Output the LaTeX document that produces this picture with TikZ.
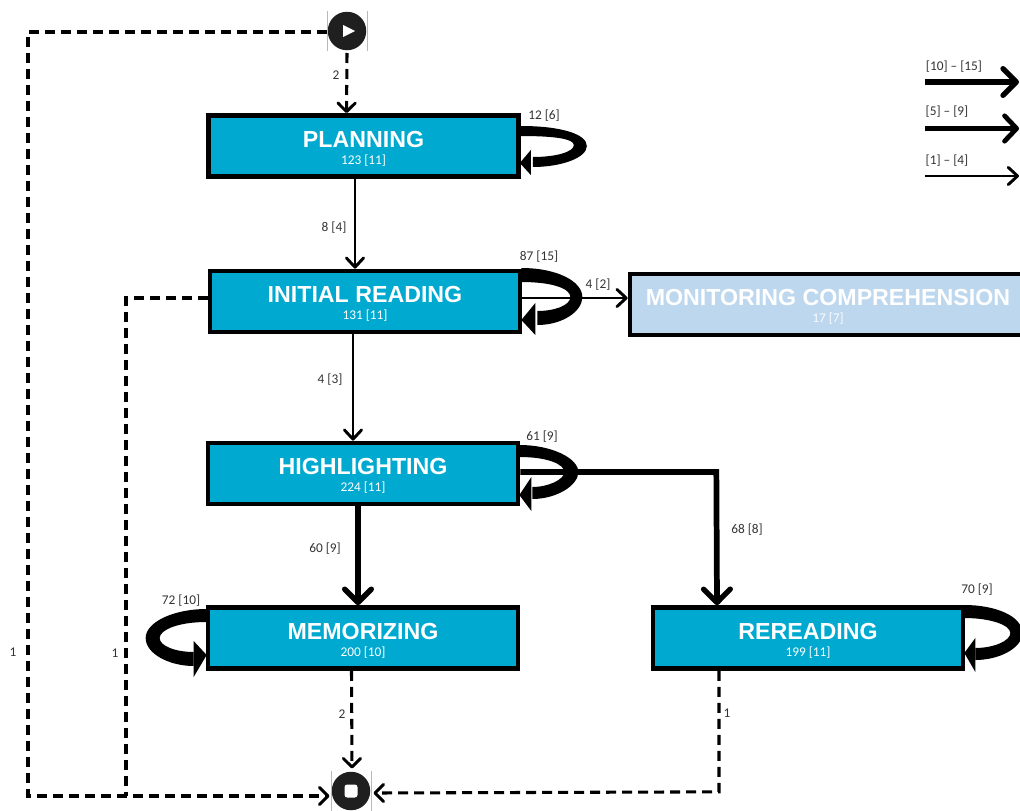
\documentclass[tikz,border=0pt]{standalone}
\usepackage{fontspec}
\setmainfont{Carlito}
\newfontfamily\headfont{Liberation Sans}
\usetikzlibrary{arrows.meta}
\definecolor{stepblue}{HTML}{00A9D0}
\definecolor{palefill}{HTML}{BDD7EE}
\definecolor{inkdark}{HTML}{1F1F1F}
\tikzset{
  dx/.style={xshift=#1*0.75pt},
  dy/.style={yshift=-#1*0.75pt},
  stepbox/.style={draw=black,line width=3.5pt,fill=stepblue,text=white,minimum width=#1*0.75pt,minimum height=61*0.75pt,inner sep=0pt,align=center},
  palebox/.style={stepbox=#1,fill=palefill},
  terminal/.style={circle,fill=inkdark,minimum size=38.5*0.75pt,inner sep=0pt},
  lab/.style={text=black!80,inner sep=0pt,yshift=-0.3pt,font=\fontsize{10}{12}\selectfont},
  conn/.style={line width=2.2pt,-{Straight Barb[length=7pt,width=13pt,line width=2.2pt,round]}},
  medconn/.style={line width=3.75pt,-{Straight Barb[length=9pt,width=19pt,line width=3.6pt,round]}},
  bigconn/.style={line width=4.3pt,-{Straight Barb[length=10pt,width=20pt,line width=4pt,round]}},
  dashconn/.style={line width=2.3pt,dash pattern=on 7.5pt off 4.5pt,-{Straight Barb[length=6.5pt,width=13pt,line width=2.2pt,round]}},
  loopfill/.style={fill=black},
}
\newcommand{\boxtext}[2]{{\headfont\bfseries\fontsize{17.4}{17}\selectfont\rule{0pt}{16pt}#1}\\[1pt]{\fontsize{10}{12}\selectfont #2}}
\begin{document}
\begin{tikzpicture}[x=0.75pt,y=-0.75pt]
\useasboundingbox (0,0) rectangle (1020,810);
\clip (0,0) rectangle (1020,810);

% steps
\node[stepbox=310] (planning) at (363.5,146) {\boxtext{PLANNING}{123 [11]}};
\node[stepbox=310] (initial) at (365,301.5) {\boxtext{INITIAL READING}{131 [11]}};
\node[palebox=396] (monitoring) at (828,304.5) {\boxtext{MONITORING COMPREHENSION}{\textcolor{white!92!palefill}{17 [7]}}};
\node[stepbox=310] (highlighting) at (363,473.5) {\boxtext{HIGHLIGHTING}{224 [11]}};
\node[stepbox=310] (memorizing) at (363,638) {\boxtext{MEMORIZING}{200 [10]}};
\node[stepbox=310] (rereading) at (808,638) {\boxtext{REREADING}{199 [11]}};

% start and stop
\node[terminal] (start) at (347,31) {};
\node[terminal] (stop) at (351,791) {};
\draw[gray!55,line width=0.4pt] (start.west) ++(-0.5,-20) -- ++(0,40) (start.east) ++(0.5,-20) -- ++(0,40);
\draw[gray!55,line width=0.4pt] (stop.west) ++(-0.5,-20) -- ++(0,40) (stop.east) ++(0.5,-20) -- ++(0,40);
\fill[white] ([dx=-4,dy=-6]start.center) -- ([dx=8]start.center) -- ([dx=-4,dy=6]start.center) -- cycle;
\fill[white,rounded corners=2pt] ([dx=-6.5,dy=-6.5]stop.center) rectangle ([dx=6.5,dy=6.5]stop.center);

% lanes of the dashed connectors
\coordinate (laneA) at (28,796);
\coordinate (laneB) at (126,796);

% dashed connectors
\draw[dashconn] ([dy=22]start.center) -- ([dx=-17]planning.north);
\draw[dashconn] ([dy=1]start.west) -- ([dy=1]start.west -| laneA) -- (laneA) -- ([dx=-2,dy=5]stop.west);
\draw[dashconn,-] ([dy=-3.5]initial.west) -- ([dy=-3.5]initial.west -| laneB) -- (laneB);
\draw[dashconn] ([dx=-11.5]memorizing.south) -- ([dx=1,dy=-3]stop.north);
\draw[dashconn] ([dx=-89]rereading.south) -- ([dx=-89,dy=121]rereading.south) -- ([dx=3,dy=2]stop.east);

% solid connectors
\draw[conn] ([dx=-8.5]planning.south) -- ([dx=-10]initial.north);
\draw[conn] ([dx=-12]initial.south) -- ([dx=-10]highlighting.north);
\draw[conn] ([dy=-3.5]initial.east) -- ([dy=-6.5]monitoring.west);
\draw[bigconn] ([dx=-5]highlighting.south) -- ([dx=-5]memorizing.north);
\draw[bigconn] ([dy=-1.5]highlighting.east) -- ([dx=196,dy=-1.5]highlighting.east) -- ([dx=-91]rereading.north);

% self loops
\begin{scope}[shift={(planning.east)}]
\fill[loopfill] (0,-20) .. controls (40,-20) and (66,-12) .. (66,0) .. controls (66,12) and (40,21) .. (12,21) -- (12,11) .. controls (35,11) and (53,6) .. (53,-1) .. controls (53,-7) and (35,-10) .. (0,-10) -- cycle;
\fill[loopfill] (-1,17) -- (10,4) -- (10,29) -- cycle;
\end{scope}
\begin{scope}[shift={(initial.east)}]
\fill[loopfill] (-1,-33.5) .. controls (35,-33.5) and (60,-20) .. (60,-4.5) .. controls (60,10) and (40,23.5) .. (15,23.5) -- (15,9.5) .. controls (32,9.5) and (48,4) .. (48,-4.5) .. controls (48,-13) and (30,-19.5) .. (-1,-19.5) -- cycle;
\fill[loopfill] (-1,18.5) -- (13,1.5) -- (13,33.5) -- cycle;
\end{scope}
\begin{scope}[shift={(highlighting.east)}]
\fill[loopfill] (-1,-28.5) .. controls (32,-28.5) and (58,-15) .. (58,-1.5) .. controls (58,12) and (36,25.5) .. (12,25.5) -- (12,13.5) .. controls (28,13.5) and (44,6) .. (44,-1.5) .. controls (44,-9) and (28,-16.5) .. (-1,-16.5) -- cycle;
\fill[loopfill] (-1,21.5) -- (11,3.5) -- (11,37.5) -- cycle;
\end{scope}
\begin{scope}[shift={(memorizing.west)}]
\fill[loopfill] (1,-29) .. controls (-32,-29) and (-60,-16) .. (-60,0) .. controls (-60,16) and (-36,28) .. (-12,28) -- (-12,14) .. controls (-30,14) and (-46,8) .. (-46,0) .. controls (-46,-8) and (-28,-16) .. (1,-16) -- cycle;
\fill[loopfill] (1,17) -- (-12,3) -- (-12,39) -- cycle;
\end{scope}
\begin{scope}[shift={(rereading.east)}]
\fill[loopfill] (-1,-33) .. controls (30,-33) and (57,-22) .. (57,-5) .. controls (57,10) and (34,22) .. (10,22) -- (10,10) .. controls (28,10) and (45,3) .. (45,-5) .. controls (45,-13) and (25,-20) .. (-1,-20) -- cycle;
\fill[loopfill] (-1,15) -- (10,0) -- (10,34) -- cycle;
\end{scope}

% legend
\coordinate (legA) at (925,82);
\coordinate (legB) at (925,128.5);
\coordinate (legC) at (925,176);
\coordinate (legAe) at (1019,82);
\coordinate (legBe) at (1019,128.5);
\coordinate (legCe) at (1019,176);
\draw[bigconn] (legA) -- (legAe);
\draw[medconn] (legB) -- (legBe);
\draw[conn] (legC) -- (legCe);

% labels
\node[lab] (l1) at (336,75) {2};
\node[lab] (l2) at (544,115) {12 [6]};
\node[lab] (l3) at (334,227) {8 [4]};
\node[lab] (l4) at (539,256.5) {87 [15]};
\node[lab] (l5) at (598,284) {4 [2]};
\node[lab] (l6) at (330,379) {4 [3]};
\node[lab] (l7) at (542,436) {61 [9]};
\node[lab] (l8) at (325,548) {60 [9]};
\node[lab] (l9) at (747,529) {68 [8]};
\node[lab] (l10) at (181,600) {72 [10]};
\node[lab] (l11) at (977,589) {70 [9]};
\node[lab] (l12) at (13,652) {1};
\node[lab] (l13) at (115,653) {1};
\node[lab] (l14) at (342,714) {2};
\node[lab] (l15) at (727,713) {1};
\node[lab] (l16) at (954,66) {[10] – [15]};
\node[lab] (l17) at (947,111) {[5] – [9]};
\node[lab] (l18) at (947,160) {[1] – [4]};
\end{tikzpicture}
\end{document}
